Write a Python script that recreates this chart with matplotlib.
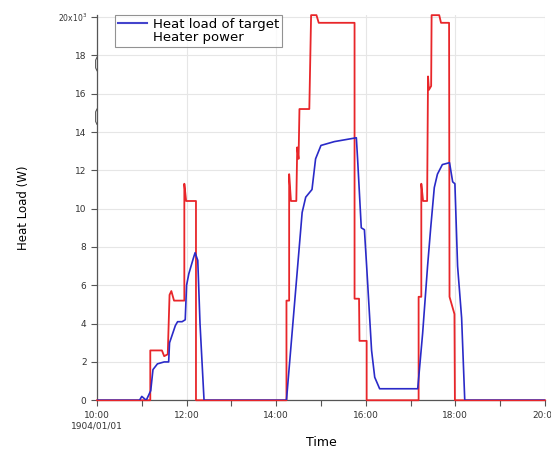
import matplotlib
matplotlib.use("Agg")
import matplotlib.pyplot as plt
import matplotlib.transforms as mtransforms
from matplotlib.lines import Line2D

# Time in hours (10.0 = 10:00)
heater_t = [10.0, 11.19, 11.19, 11.45, 11.50, 11.58, 11.62, 11.66, 11.72, 11.95, 11.95, 11.99, 12.21, 12.21,
            14.23, 14.23, 14.29, 14.29, 14.33, 14.45, 14.47, 14.50, 14.52, 14.74, 14.78, 14.90, 14.95, 15.75,
            15.75, 15.85, 15.86, 16.02, 16.02,
            17.18, 17.18, 17.24, 17.24, 17.28, 17.37, 17.39, 17.41, 17.46, 17.47, 17.64, 17.68, 17.86,
            17.87, 17.98, 17.99, 20.0]
heater_v = [0, 0, 2.6, 2.6, 2.3, 2.4, 5.5, 5.7, 5.2, 5.2, 11.3, 10.4, 10.4, 0,
            0, 5.2, 5.2, 11.8, 10.4, 10.4, 13.2, 12.6, 15.2, 15.2, 20.1, 20.1, 19.7, 19.7,
            5.3, 5.3, 3.1, 3.1, 0,
            0, 5.4, 5.4, 11.3, 10.4, 10.4, 16.9, 16.2, 16.4, 20.1, 20.1, 19.7, 19.7,
            5.4, 4.5, 0, 0]

load_t = [10.0, 10.95, 11.00, 11.05, 11.10, 11.20, 11.25, 11.35, 11.50, 11.60, 11.62, 11.75, 11.80, 11.90,
          11.97, 12.00, 12.05, 12.15, 12.19, 12.25, 12.30, 12.39,
          14.23, 14.58, 14.66, 14.80, 14.88, 15.00, 15.30, 15.79, 15.82, 15.90, 15.97, 16.02, 16.09, 16.13,
          16.20, 16.31, 17.16,
          17.27, 17.38, 17.45, 17.53, 17.60, 17.71, 17.87, 17.94, 17.99, 18.05, 18.14, 18.21, 20.0]
load_v = [0, 0, 0.2, 0.1, 0, 0.5, 1.6, 1.9, 2.0, 2.0, 3.0, 3.9, 4.1, 4.1,
          4.2, 6.0, 6.6, 7.4, 7.7, 7.3, 4.0, 0,
          0, 9.8, 10.6, 11.0, 12.6, 13.3, 13.5, 13.7, 12.5, 9.0, 8.9, 7.0, 4.2, 2.6,
          1.2, 0.6, 0.6,
          3.5, 7.0, 9.0, 11.1, 11.8, 12.3, 12.4, 11.4, 11.3, 7.0, 4.3, 0, 0]

x_ticks = [10, 12, 14, 16, 18, 20]
x_labels = ["10:00\n1904/01/01", "12:00", "14:00", "16:00", "18:00", "20:00"]
y_ticks = [0, 2, 4, 6, 8, 10, 12, 14, 16, 18, 20]
y_labels = ["0", "2", "4", "6", "8", "10", "12", "14", "16", "18", "20x10$^3$"]

fig = plt.figure(figsize=(5.51, 4.59), dpi=100)
ax = fig.add_axes([0.176, 0.128, 0.813, 0.839])

ax.plot(heater_t, heater_v, color="#e8262a", lw=1.3, zorder=3, clip_on=False)
ax.plot(load_t, load_v, color="#2a2ac8", lw=1.2, zorder=4)

ax.set_xlim(10, 20)
ax.set_ylim(0, 20.1)
ax.set_xticks(x_ticks)
ax.set_xticklabels(x_labels, fontsize=6.5, color="#333333")
ax.set_xticks(range(10, 21), minor=True)
ax.set_yticks(y_ticks)
ax.set_yticklabels(y_labels, fontsize=6.5, color="#333333")
ax.get_yticklabels()[-1].set_fontsize(5.5)
ax.tick_params(axis="both", which="both", direction="out", length=4, width=0.8, color="#555555")
ax.grid(True, which="major", color="#e6e6e6", lw=0.8)
for s in ["top", "right"]:
    ax.spines[s].set_visible(False)
for s in ["left", "bottom"]:
    ax.spines[s].set_color("#555555")
    ax.spines[s].set_linewidth(0.9)

# axis break marks on the y axis
trans = mtransforms.blended_transform_factory(ax.transAxes, ax.transData)
for y0, y1 in [(17.2, 17.9), (14.4, 15.2)]:
    ax.plot([0, -0.003, -0.003, 0], [y0, y0 + 0.15, y1 - 0.15, y1], transform=trans,
            color="#555555", lw=0.8, clip_on=False, zorder=5)

ax.set_ylabel("Heat Load (W)", fontsize=8.5, labelpad=20)
ax.set_xlabel("Time", fontsize=9, labelpad=4)

handles = [Line2D([], [], color="#4444cc", lw=1.5),
           Line2D([], [], color="none", lw=1.5)]
leg = ax.legend(handles, ["Heat load of target", "Heater power"], loc="upper left",
                bbox_to_anchor=(0.04, 1.0), fontsize=9.5, frameon=True, fancybox=False,
                borderpad=0.2, labelspacing=0.05, handlelength=2.2, handletextpad=0.5,
                borderaxespad=0.0)
leg.get_frame().set_edgecolor("#777777")
leg.get_frame().set_linewidth(0.8)

fig.savefig("out.png", dpi=100)
